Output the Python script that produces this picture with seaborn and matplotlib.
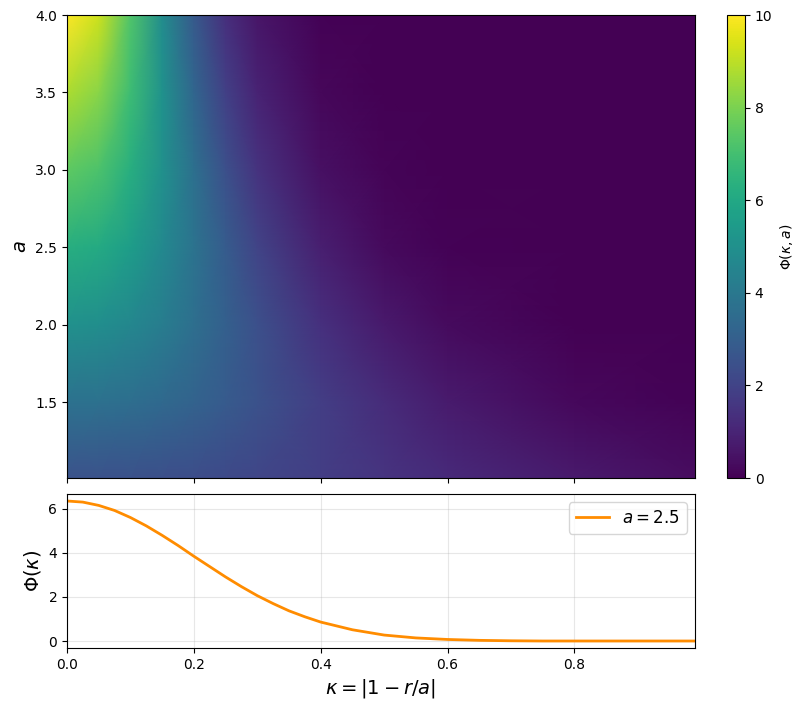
import numpy as np
import pandas as pd
import matplotlib
matplotlib.use('Agg')
import matplotlib.pyplot as plt
import seaborn as sns

# grid
kappa_grid = [0.0, 0.05, 0.1, 0.15, 0.2, 0.25, 0.3, 0.4, 0.5, 0.6, 0.8, 0.99]
a_grid = [1.01, 1.5, 2.0, 2.5, 3.0, 3.5, 4.0]
phi_a101 = [2.53, 2.51, 2.47, 2.41, 2.33, 2.22, 2.10, 1.82, 1.52, 1.21, 0.68, 0.34]
phi_a150 = [3.75, 3.71, 3.59, 3.39, 3.13, 2.83, 2.50, 1.83, 1.22, 0.74, 0.21, 0.05]
phi_a200 = [5.00, 4.90, 4.62, 4.18, 3.63, 3.03, 2.43, 1.39, 0.68, 0.28, 0.03, 0.00]
phi_a250 = [6.25, 6.06, 5.52, 4.72, 3.79, 2.86, 2.03, 0.85, 0.27, 0.07, 0.00, 0.00]
phi_a300 = [7.50, 7.17, 6.27, 5.00, 3.65, 2.43, 1.48, 0.42, 0.08, 0.01, 0.00, 0.00]
phi_a350 = [8.75, 8.23, 6.85, 5.04, 3.28, 1.89, 0.96, 0.17, 0.02, 0.00, 0.00, 0.00]
phi_a400 = [10.0, 9.23, 7.26, 4.87, 2.78, 1.35, 0.56, 0.06, 0.00, 0.00, 0.00, 0.00]

# slice at a = 2.5 (bottom panel)
kappa_line = [0.0, 0.025, 0.05, 0.075, 0.1, 0.125, 0.15, 0.175, 0.2, 0.225, 0.25,
              0.275, 0.3, 0.325, 0.35, 0.375, 0.4, 0.45, 0.5, 0.55, 0.6, 0.65,
              0.7, 0.75, 0.8, 0.85, 0.9, 0.95, 0.99]
phi_line = [6.36, 6.31, 6.16, 5.93, 5.61, 5.23, 4.80, 4.34, 3.85, 3.38, 2.91,
            2.47, 2.06, 1.70, 1.37, 1.10, 0.86, 0.51, 0.27, 0.14, 0.07, 0.03,
            0.01, 0.0, 0.0, 0.0, 0.0, 0.0, 0.0]

phi_grid = np.array([phi_a101, phi_a150, phi_a200, phi_a250, phi_a300, phi_a350, phi_a400])

fig = plt.figure(figsize=(8.09, 7.11), dpi=100)
ax_map = fig.add_axes([0.0828, 0.3277, 0.7763, 0.6512])
cax = fig.add_axes([0.8986, 0.3277, 0.0222, 0.6512])
ax_line = fig.add_axes([0.0828, 0.0886, 0.7763, 0.2166], sharex=ax_map)

K, A = np.meshgrid(kappa_grid, a_grid)
mesh = ax_map.pcolormesh(K, A, phi_grid, cmap='viridis', shading='gouraud', vmin=0, vmax=10)
ax_map.set_ylabel('$a$', fontsize=14)
ax_map.set_ylim(1.01, 4.0)
ax_map.tick_params(labelbottom=False)
cb = fig.colorbar(mesh, cax=cax)
cb.set_label(r'$\Phi(\kappa, a)$')

line_df = pd.DataFrame({'kappa': kappa_line, 'phi': phi_line})
sns.lineplot(data=line_df, x='kappa', y='phi', ax=ax_line, color='darkorange',
             linewidth=2, label='$a = 2.5$')
ax_line.set_xlim(0, 0.99)
ax_line.set_xlabel(r'$\kappa = |1 - r/a|$', fontsize=14)
ax_line.set_ylabel(r'$\Phi(\kappa)$', fontsize=14)
ax_line.set_yticks([0, 2, 4, 6])
ax_line.grid(True, alpha=0.3)
ax_line.legend(loc='upper right', fontsize=12)

fig.savefig('out.png', dpi=100)
